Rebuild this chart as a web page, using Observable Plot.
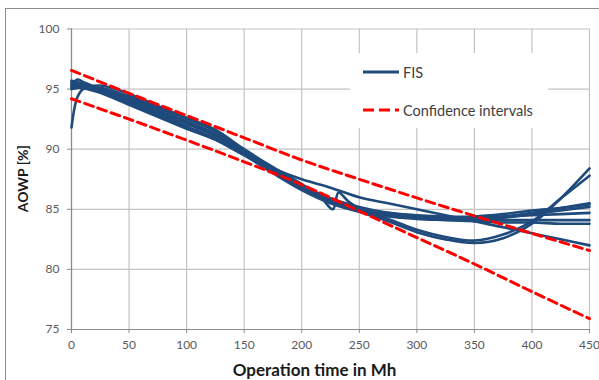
<!DOCTYPE html>
<html>
<head>
<meta charset="utf-8">
<script src="https://cdn.jsdelivr.net/npm/d3@7"></script>
<script src="https://cdn.jsdelivr.net/npm/@observablehq/plot@0.6"></script>
<style>
  html, body { margin: 0; padding: 0; background: #fff; }
  #wrap { position: relative; width: 599px; height: 380px; overflow: hidden; font-family: Lato, "Open Sans", sans-serif; }
  #border { position: absolute; left: 5px; top: 8px; width: 700px; height: 500px; border-top: 1.5px solid #8e8e8e; border-left: 1.5px solid #8e8e8e; }
  #legend { position: absolute; left: 350px; top: 53px; width: 198px; height: 75px; background: #fff; }
  .item { position: absolute; left: 13px; height: 20px; display: flex; align-items: center; font-size: 14.5px; color: #404040; }
  .item svg { margin-right: 4px; }
</style>
</head>
<body>
<div id="wrap">
  <div id="border"></div>
  <div id="chart"></div>
  <div id="legend">
    <div class="item" style="top:9px"><svg width="36" height="6"><line x1="0" y1="3" x2="36" y2="3" stroke="#1f4a7c" stroke-width="3"/></svg>FIS</div>
    <div class="item" style="top:47px"><svg width="36" height="6"><line x1="0" y1="3" x2="36" y2="3" stroke="#ff0000" stroke-width="3" stroke-dasharray="11,5"/></svg>Confidence intervals</div>
  </div>
</div>
<script>
// Operation time (Mh) at which the FIS runs are sampled
const hours = [0, 5, 10, 25, 50, 75, 100, 125, 150, 175, 200, 225, 250, 275, 300, 325, 350, 375, 400, 425, 450];

// AOWP [%] of each FIS run
const run1 = [91.8, 94.3, 95.0, 95.3, 94.6, 93.6, 92.6, 91.6, 89.9, 88.4, 87.0, 85.9, 85.1, 84.6, 84.3, 84.2, 84.2, 84.4, 84.7, 85.1, 85.5];
const run2 = [95.2, 95.8, 95.6, 95.0, 94.1, 93.2, 92.3, 91.3, 89.8, 88.3, 86.9, 85.8, 85.0, 84.5, 84.3, 84.2, 84.2, 84.3, 84.6, 84.9, 85.2];
const run3 = [95.6, 95.5, 95.3, 94.8, 93.8, 92.8, 91.8, 90.8, 89.5, 88.4, 87.5, 86.8, 86.0, 85.5, 85.0, 84.5, 84.0, 83.5, 83.0, 82.5, 82.0];
const run4 = [95.4, 95.4, 95.3, 95.0, 94.0, 93.0, 92.1, 91.1, 89.7, 88.1, 86.7, 85.6, 84.8, 84.0, 83.1, 82.5, 82.2, 82.6, 83.8, 85.9, 88.4];
const run5 = [95.1, 95.3, 95.2, 94.9, 94.2, 93.2, 92.2, 91.2, 89.8, 88.3, 86.8, 85.7, 84.9, 84.2, 83.3, 82.7, 82.4, 82.9, 84.0, 85.9, 87.8];
const run6 = [95.5, 95.4, 95.2, 94.9, 94.3, 93.4, 92.5, 91.5, 89.8, 88.2, 86.8, 85.7, 85.0, 84.6, 84.4, 84.3, 84.3, 84.4, 84.5, 84.6, 84.7];
const run7 = [95.7, 95.6, 95.4, 95.0, 93.9, 92.9, 91.9, 90.9, 89.6, 88.2, 86.9, 85.9, 85.2, 84.7, 84.4, 84.2, 84.1, 84.1, 84.1, 84.1, 84.1];
const run8 = [95.3, 95.2, 95.1, 94.7, 93.7, 92.7, 91.7, 90.8, 89.5, 88.0, 86.6, 85.5, 84.8, 84.4, 84.2, 84.1, 84.0, 83.9, 83.9, 83.8, 83.8];

// One run has a short jump near 230 Mh, so it carries its own time samples
const run9Hours = [0, 5, 10, 25, 50, 75, 100, 125, 150, 175, 200, 215, 227, 232, 240, 250, 275, 300, 325, 350, 375, 400, 425, 450];
const run9 = [95.0, 95.1, 95.1, 95.1, 94.4, 93.5, 92.6, 91.6, 90.0, 88.5, 87.1, 86.2, 85.0, 86.4, 85.7, 85.1, 84.7, 84.5, 84.4, 84.4, 84.6, 84.9, 85.1, 85.4];

// Confidence interval bounds
const boundHours = [0, 50, 100, 150, 200, 250, 300, 350, 400, 450];
const upperBound = [96.55, 94.65, 92.8, 90.95, 89.1, 87.5, 85.95, 84.45, 83.0, 81.57];
const lowerBound = [94.2, 92.5, 90.75, 88.95, 87.05, 84.85, 82.65, 80.45, 78.15, 75.9];

// Axis ticks and titles
const xTicks = [0, 50, 100, 150, 200, 250, 300, 350, 400, 450];
const yTicks = [75, 80, 85, 90, 95, 100];
const xTitle = "Operation time in Mh";
const yTitle = "AOWP [%]";

const runs = [run1, run2, run3, run4, run5, run6, run7, run8];
const fis = runs.flatMap((vals, i) => vals.map((v, j) => ({run: "run" + (i + 1), hours: hours[j], aowp: v})))
  .concat(run9.map((v, j) => ({run: "run9", hours: run9Hours[j], aowp: v})));

const bounds = boundHours.flatMap((h, j) => [
  {bound: "upper", hours: h, aowp: upperBound[j]},
  {bound: "lower", hours: h, aowp: lowerBound[j]}
]);

const navy = "#1f4a7c";
const gridColor = "#c3c3c3";
const axisColor = "#8a8a8a";

const chart = Plot.plot({
  width: 599,
  height: 380,
  marginLeft: 71,
  marginRight: 10,
  marginTop: 28.5,
  marginBottom: 51,
  style: {fontFamily: "Lato, 'Open Sans', sans-serif", fontSize: "12px", color: "#595959", background: "transparent"},
  x: {domain: [0, 450]},
  y: {domain: [75, 100]},
  marks: [
    Plot.gridX(xTicks, {stroke: gridColor, strokeOpacity: 1, strokeWidth: 1.2}),
    Plot.gridY(yTicks, {stroke: gridColor, strokeOpacity: 1, strokeWidth: 1.2}),
    Plot.axisX(xTicks, {tickSize: 4, tickPadding: 7, stroke: axisColor, label: null, fill: "#595959"}),
    Plot.axisY(yTicks, {tickSize: 4, tickPadding: 8, stroke: axisColor, label: null, fill: "#595959"}),
    Plot.ruleX([0], {stroke: axisColor, strokeWidth: 1.2}),
    Plot.ruleY([75], {stroke: axisColor, strokeWidth: 1.2}),
    Plot.line(fis, {x: "hours", y: "aowp", z: "run", stroke: navy, strokeWidth: 2.6, curve: "catmull-rom"}),
    Plot.line(bounds, {x: "hours", y: "aowp", z: "bound", stroke: "#ff0000", strokeWidth: 3, strokeDasharray: "9,5", curve: "catmull-rom"}),
    Plot.text([yTitle], {text: d => d, frameAnchor: "left", rotate: -90, dx: -48, dy: 33, fontWeight: "bold", fontSize: 14, fill: "#1a1a1a"}),
    Plot.text([xTitle], {text: d => d, frameAnchor: "bottom", dx: -16, dy: 46, fontWeight: "bold", fontSize: 17, fill: "#1a1a1a"})
  ]
});
document.getElementById("chart").append(chart);
</script>
</body>
</html>
